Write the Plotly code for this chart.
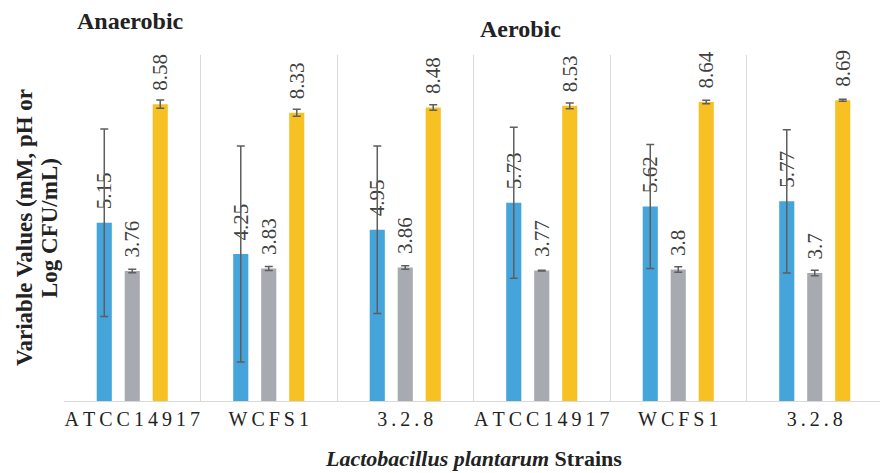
import plotly.graph_objects as go

# ---- data ----
strains = ["ATCC14917", "WCFS1", "3.2.8", "ATCC14917", "WCFS1", "3.2.8"]
series_names = ["Lactic acid (mM)", "pH", "Viable count (Log CFU/mL)"]
blue_vals = [5.15, 4.25, 4.95, 5.73, 5.62, 5.77]
blue_err = [2.71, 3.12, 2.42, 2.18, 1.79, 2.07]
gray_vals = [3.76, 3.83, 3.86, 3.77, 3.80, 3.70]
gray_err = [0.05, 0.06, 0.05, 0.01, 0.08, 0.08]
yellow_vals = [8.58, 8.33, 8.48, 8.53, 8.64, 8.69]
yellow_err = [0.12, 0.10, 0.08, 0.08, 0.05, 0.03]

colors = ["#45A5DB", "#A7ABB1", "#F7C023"]
SERIF = "Liberation Serif"

x = list(range(len(strains)))
tick_text = ["\u2009".join(list(s)) for s in strains]
boundaries = [i - 0.5 for i in range(len(strains) + 1)]

def fmt(v):
    s = f"{v:.2f}".rstrip("0").rstrip(".")
    return "\u00a0\u00a0" + s

fig = go.Figure()
for name, vals, errs, col in zip(series_names,
                                 [blue_vals, gray_vals, yellow_vals],
                                 [blue_err, gray_err, yellow_err],
                                 colors):
    fig.add_trace(go.Bar(
        x=x, y=vals, name=name,
        marker=dict(color=col, line=dict(width=0)),
        error_y=dict(type="data", array=errs, visible=True,
                     color="#5E5E5E", thickness=1.5, width=4),
        text=[fmt(v) for v in vals],
        textposition="outside", textangle=-90, constraintext="none",
        cliponaxis=False,
        textfont=dict(family=SERIF, size=21, color="#404040"),
        showlegend=False,
    ))

# page body has an 8px default margin, so the figure is 8px smaller
fig.update_layout(
    width=880, height=465,
    margin=dict(l=56, r=5, t=47, b=72),
    plot_bgcolor="white", paper_bgcolor="white",
    barmode="group", bargap=0.385, bargroupgap=0.46,
    font=dict(family=SERIF, color="#222222"),
)
fig.update_xaxes(
    range=[-0.5, len(strains) - 0.5],
    tickvals=x, ticktext=tick_text,
    tickfont=dict(family=SERIF, size=20, color="#222222"),
    ticks="", showgrid=False, zeroline=False,
    showline=True, linecolor="#D9D9D9", linewidth=1,
    minor=dict(tickvals=boundaries, showgrid=True, gridcolor="#D9D9D9",
               gridwidth=1, ticks=""),
)
fig.update_yaxes(
    range=[0, 10], showticklabels=False, showgrid=False,
    zeroline=False, showline=False, ticks="",
)

fig.add_annotation(text="<b>Variable Values (mM, pH or</b>", textangle=-90,
                   xref="paper", yref="paper", x=0, y=0.5, xshift=-40,
                   xanchor="center", yanchor="middle", showarrow=False,
                   font=dict(family=SERIF, size=23, color="#222222"))
fig.add_annotation(text="<b>Log CFU/mL)</b>", textangle=-90,
                   xref="paper", yref="paper", x=0, y=0.5, xshift=-15,
                   xanchor="center", yanchor="middle", showarrow=False,
                   font=dict(family=SERIF, size=23, color="#222222"))
fig.add_annotation(text="<b>Anaerobic</b>", xref="paper", yref="paper",
                   x=0.081, y=1.098, xanchor="center", yanchor="middle",
                   showarrow=False,
                   font=dict(family=SERIF, size=24, color="#222222"))
fig.add_annotation(text="<b>Aerobic</b>", xref="paper", yref="paper",
                   x=0.557, y=1.074, xanchor="center", yanchor="middle",
                   showarrow=False,
                   font=dict(family=SERIF, size=24, color="#222222"))
fig.add_annotation(text="<b><i>Lactobacillus plantarum</i> Strains</b>",
                   xref="paper", yref="paper", x=0.5, y=-0.165,
                   xanchor="center", yanchor="middle", showarrow=False,
                   font=dict(family=SERIF, size=22, color="#222222"))

fig.write_html("out.html")
